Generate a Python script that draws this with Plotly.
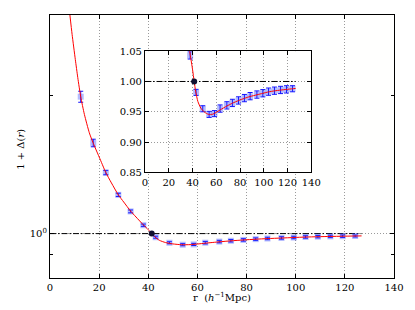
import plotly.graph_objects as go
import numpy as np

# ---- data ----
r_pts = [12.5, 17.6, 22.7, 27.8, 32.8, 38.0, 43.0, 48.6, 54.0, 58.5, 63.2, 68.9,
         73.6, 78.7, 83.7, 88.5, 94.2, 99.2, 104.0, 109.0, 114.1, 119.1, 124.2]
d_pts = [1.99, 1.577, 1.359, 1.215, 1.118, 1.043, 0.982, 0.955, 0.9457, 0.947, 0.9553, 0.9606,
         0.9646, 0.9687, 0.9726, 0.9758, 0.9784, 0.9806, 0.9832, 0.9848, 0.986, 0.987, 0.988]
d_err = [0.055, 0.03, 0.015, 0.01, 0.008, 0.006, 0.005, 0.005, 0.005, 0.005, 0.006, 0.006,
         0.006, 0.006, 0.006, 0.006, 0.006, 0.006, 0.006, 0.006, 0.006, 0.006, 0.005]

r_ref = [41.4]
d_ref = [1.0]

r_fit = [8.1, 9.0, 10.3, 11.3, 12.5, 14.0, 16.0, 17.6, 20.0, 22.7, 25.0, 27.8, 30.0, 32.8,
         35.0, 38.0, 40.0, 41.4, 42.7, 44.5, 47.0, 50.0, 53.5, 57.0, 60.0, 63.2, 68.9, 73.6,
         78.7, 83.7, 88.5, 94.2, 99.2, 104.0, 109.0, 114.1, 119.1, 124.2, 126.8]
d_fit = [3.0, 2.72, 2.40, 2.19, 1.99, 1.82, 1.66, 1.575, 1.47, 1.36, 1.29, 1.215, 1.172, 1.12,
         1.087, 1.045, 1.02, 1.0, 0.983, 0.967, 0.956, 0.9495, 0.9457, 0.946, 0.949, 0.953, 0.9595, 0.9642,
         0.9685, 0.9722, 0.9752, 0.978, 0.9805, 0.9828, 0.9845, 0.9858, 0.9869, 0.988, 0.9885]

ref_line_x = [0, 126.8]
ref_line_y = [1.0, 1.0]

x_ticks = [0, 20, 40, 60, 80, 100, 120, 140]
inset_y_ticks = [0.85, 0.90, 0.95, 1.00, 1.05]
inset_y_labels = ["0.85", "0.90", "0.95", "1.00", "1.05"]

FONT = "DejaVu Serif"
DASHDOT = "6px,2px,1.5px,2px"
GRID = dict(showgrid=True, gridcolor="#9a9a9a", griddash="1px,2px", gridwidth=1)

fig = go.Figure()

for xa, ya in [("x", "y"), ("x2", "y2")]:
    fig.add_trace(go.Scatter(x=ref_line_x, y=ref_line_y, mode="lines", xaxis=xa, yaxis=ya,
                             line=dict(color="black", width=1, dash=DASHDOT), showlegend=False,
                             hoverinfo="skip"))
    fig.add_trace(go.Scatter(x=r_pts, y=d_pts, mode="markers", xaxis=xa, yaxis=ya,
                             marker=dict(symbol="square", size=6, color="rgba(40,60,255,0.35)",
                                         line=dict(width=0)),
                             error_y=dict(type="data", array=d_err, visible=True, color="#1010ff",
                                          thickness=1, width=2.5),
                             showlegend=False))
    fig.add_trace(go.Scatter(x=r_fit, y=d_fit, mode="lines", xaxis=xa, yaxis=ya,
                             line=dict(color="red", width=1.0, shape="spline", smoothing=0.6),
                             showlegend=False))
    fig.add_trace(go.Scatter(x=r_ref, y=d_ref, mode="markers", xaxis=xa, yaxis=ya,
                             marker=dict(symbol="circle", size=6, color="#101030"),
                             showlegend=False))

axis_common = dict(showline=True, linecolor="black", linewidth=1.2, mirror="ticks",
                   ticks="inside", tickcolor="black", ticklen=4, zeroline=False,
                   tickfont=dict(family=FONT, size=10, color="black"))

# the page adds an 8px body margin, so the figure is drawn 8px smaller and offset
fig.update_layout(
    width=407, height=302,
    margin=dict(l=42, r=21, t=1, b=32),
    paper_bgcolor="#ffffff", plot_bgcolor="#fffffe",
    font=dict(family=FONT, size=10, color="black"),
    xaxis=dict(domain=[0, 1], range=[0, 140], tickvals=x_ticks, **GRID, **axis_common),
    yaxis=dict(domain=[0, 1], type="log", range=[np.log10(0.8), np.log10(3.0)],
               tickvals=[1], ticktext=["10<sup>0</sup>"],
               minor=dict(tickmode="array", tickvals=[0.9, 2], ticks="inside", ticklen=2.5,
                          tickcolor="black", showgrid=False),
               **GRID, **axis_common),
    xaxis2=dict(domain=[0.2762, 0.7596], anchor="y2", range=[0, 140], tickvals=x_ticks,
                **GRID, **axis_common),
    yaxis2=dict(domain=[0.4015, 0.8625], anchor="x2", range=[0.85, 1.05],
                tickvals=inset_y_ticks, ticktext=inset_y_labels, **GRID, **axis_common),
    annotations=[
        dict(text="r  (<i>h</i><sup>−1</sup>Mpc)", xref="paper", yref="paper", x=0.5, y=-0.074,
             xanchor="center", yanchor="middle", showarrow=False,
             font=dict(family=FONT, size=10, color="black")),
        dict(text="1 + Δ(<i>r</i>)", xref="paper", yref="paper", x=-0.088, y=0.49,
             xanchor="center", yanchor="middle", textangle=-90, showarrow=False,
             font=dict(family=FONT, size=10, color="black")),
    ],
)

fig.write_html("out.html")
